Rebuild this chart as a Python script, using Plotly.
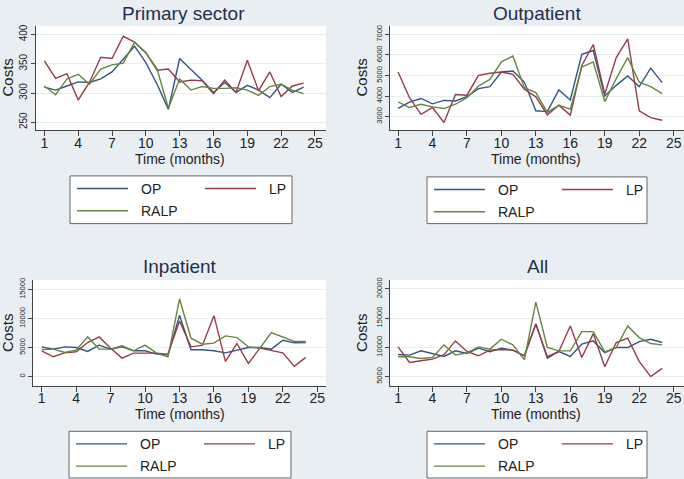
import plotly.graph_objects as go

W, H = 684, 479

months = list(range(1, 25))
series_names = ["OP", "LP", "RALP"]
series_colors = ["#34557f", "#923e49", "#678540"]

panel_titles = ["Primary sector", "Outpatient", "Inpatient", "All"]
x_tickvals = [1, 4, 7, 10, 13, 16, 19, 22, 25]

primary_op = [310, 305, 312, 319, 318, 324, 336, 358, 380, 352, 315, 272, 359, 340, 322, 301, 318, 301, 313, 305, 292, 315, 301, 310]
primary_lp = [355, 325, 333, 288, 318, 361, 359, 397, 387, 369, 339, 341, 319, 322, 321, 299, 322, 301, 356, 304, 336, 294, 312, 317]
primary_ralp = [312, 297, 324, 332, 315, 341, 348, 351, 387, 369, 341, 274, 324, 305, 311, 308, 308, 309, 305, 296, 311, 315, 305, 299]

outpatient_op = [3400, 3700, 3880, 3620, 3790, 3760, 3970, 4360, 4460, 5170, 5220, 4680, 3280, 3240, 4300, 3810, 6030, 6220, 4000, 4520, 4980, 4460, 5360, 4650]
outpatient_lp = [5170, 3920, 3110, 3440, 2710, 4070, 4040, 5010, 5110, 5170, 5060, 4330, 3960, 3080, 3550, 3070, 5490, 6510, 4090, 5870, 6790, 3280, 2950, 2820]
outpatient_ralp = [3710, 3440, 3600, 3470, 3390, 3600, 3920, 4490, 4810, 5670, 5950, 4410, 4170, 3200, 3550, 3360, 5410, 5660, 3730, 4850, 5870, 4680, 4460, 4120]

inpatient_op = [5130, 4730, 5130, 5020, 4330, 5420, 4730, 5130, 4450, 4450, 3880, 3710, 10550, 4620, 4620, 4450, 4100, 4560, 5020, 5020, 4730, 6270, 5820, 5870]
inpatient_lp = [4450, 3420, 4100, 4280, 5870, 6840, 4900, 3190, 4050, 4050, 4050, 3880, 9580, 5130, 5420, 10490, 2620, 5700, 2280, 4900, 4560, 4100, 1770, 3310]
inpatient_ralp = [4680, 4730, 4160, 4560, 6840, 4730, 4730, 5300, 4450, 5420, 4050, 3420, 13400, 6620, 5590, 5760, 7010, 6730, 5130, 4900, 7580, 6840, 6050, 6050]

all_op = [8790, 8680, 9410, 8960, 8450, 9410, 8960, 9870, 9250, 9870, 9530, 8570, 14060, 8170, 9300, 8450, 10550, 11110, 9080, 9980, 9980, 11000, 11400, 10830]
all_lp = [10090, 7430, 7720, 8000, 8740, 11110, 9300, 8570, 9530, 9640, 9530, 8570, 13940, 8400, 9300, 13660, 8280, 12360, 6700, 10830, 11570, 7600, 5000, 6420]
all_ralp = [8400, 8400, 8110, 8280, 10430, 8680, 9080, 10090, 9700, 11400, 10430, 7890, 17740, 9980, 9410, 9410, 12700, 12700, 9250, 9980, 13660, 11680, 10660, 10430]

y_tickvals = [
    [250, 300, 350, 400],
    [3000, 4000, 5000, 6000, 7000],
    [0, 5000, 10000, 15000],
    [5000, 10000, 15000, 20000],
]
panel_series = [
    [primary_op, primary_lp, primary_ralp],
    [outpatient_op, outpatient_lp, outpatient_ralp],
    [inpatient_op, inpatient_lp, inpatient_ralp],
    [all_op, all_lp, all_ralp],
]

# layout (pixels)
panels = [
    dict(x0=36, x1=326, y0=23, y1=128.3, xr=[0.26, 25.98], yr=[235.9, 414.8], ytf=10,
         title=(183, 11), xtitle=(180, 157), ytitle=(8, 75), legend=(70, 174, 292, 222)),
    dict(x0=390, x1=684, y0=23, y1=128.3, xr=[0.30, 25.9], yr=[2320, 7420], ytf=7.5,
         title=(537, 11), xtitle=(536, 157), ytitle=(362, 75), legend=(427, 175, 647, 222)),
    dict(x0=33, x1=326, y0=279, y1=385, xr=[0.24, 25.76], yr=[-1540, 16590], ytf=7.5,
         title=(180, 265), xtitle=(180, 414), ytitle=(8, 332), legend=(69, 431, 291, 478)),
    dict(x0=390, x1=684, y0=279, y1=385, xr=[0.30, 25.9], yr=[3470, 21480], ytf=7.5,
         title=(537, 265), xtitle=(536, 414), ytitle=(362, 332), legend=(427, 431, 647, 478)),
]

def fx(p):
    return p / W

def fy(p):
    return 1 - p / H

FONT = "Liberation Sans, Arial, sans-serif"
TXT = "#222222"
fig = go.Figure()
shapes = []
annotations = []

for i, pn in enumerate(panels):
    ax = "" if i == 0 else str(i + 1)
    for name, col, ys in zip(series_names, series_colors, panel_series[i]):
        fig.add_trace(go.Scatter(x=months, y=ys, mode="lines", name=name,
                                 line=dict(color=col, width=1.4),
                                 xaxis="x" + ax, yaxis="y" + ax, showlegend=False))
    fig.layout["xaxis" + ax] = dict(
        domain=[fx(pn["x0"]), fx(pn["x1"])], range=pn["xr"], anchor="y" + ax,
        tickvals=x_tickvals, ticks="outside", ticklen=5, tickcolor="#444",
        ticklabelstandoff=-5,
        showline=True, linecolor="#444", linewidth=1, showgrid=False, zeroline=False,
        tickfont=dict(size=14, color=TXT, family=FONT))
    fig.layout["yaxis" + ax] = dict(
        domain=[fy(pn["y1"]), fy(pn["y0"])], range=pn["yr"], anchor="x" + ax,
        tickvals=y_tickvals[i], tickformat="d", ticks="outside", ticklen=4, tickcolor="#444",
        tickangle=-90, showline=True, linecolor="#444", linewidth=1,
        showgrid=True, gridcolor="#e6eef0", gridwidth=1, zeroline=False,
        tickfont=dict(size=pn["ytf"], color=TXT, family=FONT))
    # titles
    annotations.append(dict(text=panel_titles[i], x=fx(pn["title"][0]), y=fy(pn["title"][1]),
                            xref="paper", yref="paper", xanchor="center", yanchor="middle",
                            showarrow=False, font=dict(size=19, color="#1f2f4f", family=FONT)))
    annotations.append(dict(text="Time (months)", x=fx(pn["xtitle"][0]), y=fy(pn["xtitle"][1]),
                            xref="paper", yref="paper", xanchor="center", yanchor="middle",
                            showarrow=False, font=dict(size=14, color=TXT, family=FONT)))
    annotations.append(dict(text="Costs", x=fx(pn["ytitle"][0]), y=fy(pn["ytitle"][1]),
                            xref="paper", yref="paper", xanchor="center", yanchor="middle",
                            textangle=-90, showarrow=False,
                            font=dict(size=15, color=TXT, family=FONT)))
    # legend box
    lx0, ly0, lx1, ly1 = pn["legend"]
    shapes.append(dict(type="rect", xref="paper", yref="paper",
                       x0=fx(lx0), x1=fx(lx1), y0=fy(ly1), y1=fy(ly0),
                       line=dict(color="#666", width=1), fillcolor="white"))
    entries = [(0, 7, 12.7), (1, 135, 12.7), (2, 7, 35)]
    for si, dx, dy in entries:
        shapes.append(dict(type="line", xref="paper", yref="paper",
                           x0=fx(lx0 + dx), x1=fx(lx0 + dx + 51), y0=fy(ly0 + dy), y1=fy(ly0 + dy),
                           line=dict(color=series_colors[si], width=1.4)))
        annotations.append(dict(text=series_names[si], x=fx(lx0 + dx + 62), y=fy(ly0 + dy),
                                xref="paper", yref="paper", xanchor="left", yanchor="middle",
                                showarrow=False, font=dict(size=14, color=TXT, family=FONT)))

fig.update_layout(width=W, height=H, margin=dict(l=0, r=0, t=0, b=0),
                  paper_bgcolor="#e9eef2", plot_bgcolor="white",
                  shapes=shapes, annotations=annotations, showlegend=False)
fig.write_html("out.html", config={"displayModeBar": False},
               post_script="document.body.style.margin='0';")
